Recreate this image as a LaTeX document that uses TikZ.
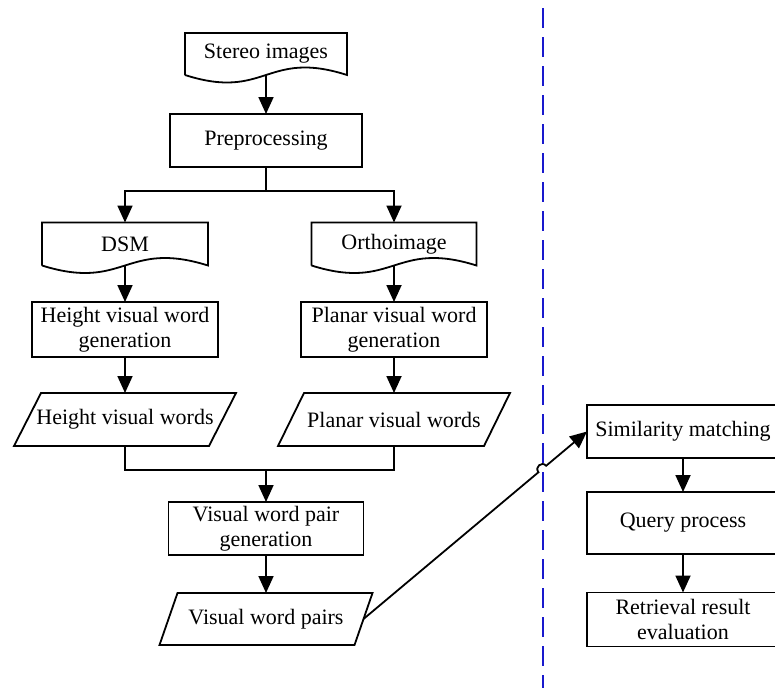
\documentclass[tikz,border=0pt]{standalone}
\usepackage{fontspec}
\setmainfont{Liberation Serif}
\usetikzlibrary{arrows.meta,calc}
\definecolor{divblue}{RGB}{25,25,205}
\newcommand\docdraw[1]{\draw[ln] (#1.south west) -- (#1.north west) -- (#1.north east) -- (#1.south east)
  .. controls ($(#1.south)+(0,-26)$) and ($(#1.south)+(0,26)$) .. (#1.south west);}
\newcommand\pgramdraw[2]{\draw[ln] ([xshift=#2pt]#1.north west) -- ([xshift=#2pt]#1.north east)
  -- ([xshift=-#2pt]#1.south east) -- ([xshift=-#2pt]#1.south west) -- cycle;}
\begin{document}
\begin{tikzpicture}[x=1pt,y=-1pt,
  ln/.style={line width=1.8pt, line join=miter},
  base/.style={inner sep=0pt, outer sep=0pt, align=center, font=\fontsize{22}{25}\selectfont},
  procbox/.style={base, draw, line width=1.8pt, minimum width=192pt, minimum height=53pt},
  txt/.style={base},
  arr/.style={ln, -{Triangle[length=17pt,width=15pt]}}]
\useasboundingbox (0,0) rectangle (775,688);
\fill[white] (0,0) rectangle (775,688);
% divider
\coordinate (dtop) at (543,8);
\coordinate (dbot) at (543,688);
\draw[divblue, line width=2pt, dash pattern=on 20pt off 9pt] (dtop) -- (dbot);
% left column
\node[txt, minimum width=162pt, minimum height=42pt] (stereo) at (266,54) {Stereo images};
\docdraw{stereo}
\node[procbox] (pre) at (266,140.5) {Preprocessing};
\node[txt, minimum width=166pt, minimum height=43pt] (dsm) at (125,244) {DSM};
\docdraw{dsm}
\node[txt, minimum width=165pt, minimum height=43pt] (ortho) at (394,244) {Orthoimage};
\docdraw{ortho}
\node[procbox, minimum width=186pt, minimum height=55pt] (hvwg) at (125,329.5) {Height visual word\\generation};
\node[procbox, minimum width=186pt, minimum height=55pt] (pvwg) at (394,329.5) {Planar visual word\\generation};
\node[txt, minimum width=195pt, minimum height=53pt] (hvw) at (125,419.5) {Height visual words};
\pgramdraw{hvw}{13.5}
\node[txt, minimum width=206pt, minimum height=53pt] (pvw) at (394,419.5) {Planar visual words};
\pgramdraw{pvw}{13}
\node[procbox, minimum width=195pt] (vwpg) at (266,528.5) {Visual word pair\\generation};
\node[txt, minimum width=195pt, minimum height=52pt] (vwp) at (266,619) {Visual word pairs};
\pgramdraw{vwp}{9}
% right column
\node[procbox] (sim) at (683,431.5) {Similarity matching};
\node[procbox, minimum height=62pt] (query) at (683,523) {Query process};
\node[procbox, minimum height=54pt] (retr) at (683,619.5) {Retrieval result\\evaluation};
% connectors
\draw[arr] (stereo.south) -- (pre.north);
\coordinate (split) at (266,191);
\draw[ln] (pre.south) -- (split);
\draw[arr] (split) -| (dsm.north);
\draw[arr] (split) -| (ortho.north);
\draw[arr] (dsm.south) -- (hvwg.north);
\draw[arr] (ortho.south) -- (pvwg.north);
\draw[arr] (hvwg.south) -- (hvw.north);
\draw[arr] (pvwg.south) -- (pvw.north);
\coordinate (merge) at (266,470);
\draw[ln] (hvw.south) |- (merge) -| (pvw.south);
\draw[arr] (merge) -- (vwpg.north);
\draw[arr] (vwpg.south) -- (vwp.north);
\draw[arr] (sim.south) -- (query.north);
\draw[arr] (query.south) -- (retr.north);
% crossing connector with hop
\coordinate (hop) at ($(vwp.east)!0.8!(sim.west)$);
\coordinate (h1) at ($(hop)!5pt!(vwp.east)$);
\coordinate (h2) at ($(hop)!-5pt!(vwp.east)$);
\draw[arr] (vwp.east) -- (h1) .. controls ($(h1)!6.6pt!90:(hop)$) and ($(h2)!6.6pt!-90:(hop)$) .. (h2) -- (sim.west);
\end{tikzpicture}
\end{document}
